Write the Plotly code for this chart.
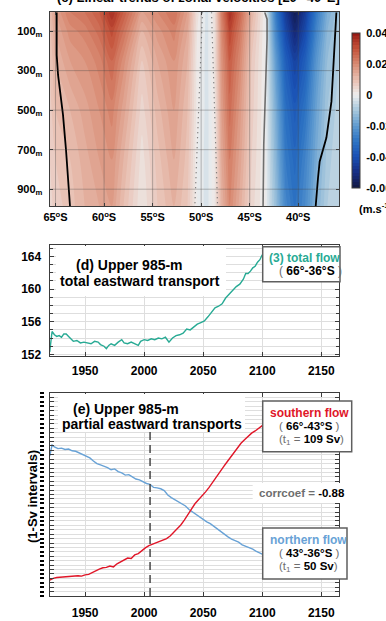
import plotly.graph_objects as go

W, H = 386, 621
def px(x): return x / W
def py(y): return 1 - y / H

FONT = "Liberation Sans, Arial, Helvetica, sans-serif"

# ---------------- panel (c): zonal-velocity trends ----------------
lat = [-65.6, -65.0, -63.5, -62.0, -60.5, -59.2, -58.0, -56.1, -54.5, -52.8, -51.4, -50.4, -49.4,
       -48.6, -47.9, -47.05, -46.0, -44.8, -43.4, -42.3, -41.3, -40.35, -39.3, -38.1, -37.0, -35.8]
depth = [5, 100, 250, 500, 750, 985]
trend_d5 = [0.010, 0.016, 0.022, 0.024, 0.028, 0.036, 0.028, 0.016, 0.020, 0.024, 0.016, 0.003, -0.003,
            0.004, 0.022, 0.036, 0.026, 0.012, 0.000, -0.028, -0.046, -0.057, -0.046, -0.028, -0.016, -0.010]
trend_d100 = [0.009, 0.014, 0.019, 0.021, 0.025, 0.031, 0.024, 0.012, 0.017, 0.021, 0.014, 0.002, -0.003,
              0.003, 0.020, 0.032, 0.023, 0.010, 0.000, -0.025, -0.042, -0.052, -0.042, -0.025, -0.014, -0.009]
trend_d250 = [0.008, 0.012, 0.016, 0.018, 0.021, 0.026, 0.019, 0.008, 0.014, 0.018, 0.012, 0.001, -0.003,
              0.003, 0.018, 0.028, 0.020, 0.008, 0.000, -0.020, -0.036, -0.044, -0.036, -0.021, -0.012, -0.008]
trend_d500 = [0.007, 0.010, 0.012, 0.015, 0.018, 0.021, 0.015, 0.005, 0.011, 0.016, 0.010, 0.001, -0.003,
              0.002, 0.016, 0.025, 0.017, 0.007, 0.000, -0.016, -0.031, -0.037, -0.030, -0.018, -0.010, -0.007]
trend_d750 = [0.006, 0.008, 0.010, 0.013, 0.016, 0.018, 0.012, 0.003, 0.009, 0.014, 0.009, 0.000, -0.003,
              0.002, 0.014, 0.022, 0.015, 0.006, 0.000, -0.014, -0.028, -0.033, -0.026, -0.016, -0.009, -0.006]
trend_d985 = [0.005, 0.007, 0.009, 0.012, 0.014, 0.016, 0.010, 0.002, 0.008, 0.012, 0.008, 0.000, -0.003,
              0.002, 0.012, 0.020, 0.013, 0.005, 0.000, -0.012, -0.025, -0.030, -0.024, -0.014, -0.008, -0.006]

# front / contour lines (lat, depth)
south_front_lat = [-64.88, -64.88, -64.74, -64.43, -64.23, -63.92, -63.66, -63.51]
south_front_dep = [5, 221, 322, 448, 524, 701, 853, 985]
north_front_lat = [-36.07, -36.14, -36.35, -36.58, -37.10, -37.79, -37.96, -38.20]
north_front_dep = [5, 70, 221, 457, 640, 760, 842, 985]
split_lat = [-43.45, -43.21, -43.21, -43.34, -43.55, -43.62]
split_dep = [5, 40, 140, 375, 675, 985]
dot1_lat = [-49.86, -50.65]
dot2_lat = [-48.93, -48.31]
dot_dep = [5, 985]

lat_ticks = [-65, -60, -55, -50, -45, -40]
lat_labels = ["65<sup>o</sup>S", "60<sup>o</sup>S", "55<sup>o</sup>S", "50<sup>o</sup>S", "45<sup>o</sup>S", "40<sup>o</sup>S"]
dep_ticks = [100, 300, 500, 700, 900]
dep_labels = ["100<sub>m</sub>", "300<sub>m</sub>", "500<sub>m</sub>", "700<sub>m</sub>", "900<sub>m</sub>"]
cb_ticks = [-0.06, -0.04, -0.02, 0, 0.02, 0.04]
cb_labels = ["-0.06", "-0.04", "-0.02", "0", "0.02", "0.04"]

# ---------------- panel (d): total transport ----------------
years_total = [1920, 1921, 1922, 1924, 1926, 1928, 1930, 1932, 1934, 1936, 1938, 1940, 1943, 1946, 1949, 1952,
               1955, 1958, 1961, 1963, 1966, 1968, 1970, 1972, 1975, 1978, 1981, 1983, 1986, 1989, 1992, 1995,
               1997, 2000, 2003, 2006, 2009, 2012, 2015, 2018, 2021, 2024, 2027, 2030, 2033, 2036, 2039, 2042,
               2045, 2048, 2051, 2054, 2057, 2060, 2063, 2066, 2069, 2072, 2075, 2078, 2081, 2084, 2086, 2088,
               2090, 2092, 2094, 2096, 2098, 2100]
total_flow = [152.3, 154.0, 154.8, 154.4, 154.2, 154.3, 154.1, 154.5, 154.5, 154.2, 153.9, 153.6, 153.7, 153.4,
              153.5, 153.4, 153.3, 153.6, 153.5, 153.2, 153.0, 152.7, 153.1, 153.3, 153.1, 153.5, 153.8, 153.4,
              153.3, 153.5, 153.3, 153.1, 153.6, 153.8, 153.7, 153.9, 153.8, 154.0, 153.9, 154.1, 153.5, 154.0,
              154.3, 154.4, 154.6, 155.1, 155.0, 155.4, 155.7, 155.9, 156.1, 156.6, 157.2, 157.7, 157.9, 158.2,
              158.9, 159.4, 159.8, 160.3, 160.6, 161.2, 161.9, 161.9, 162.2, 162.6, 162.8, 163.3, 163.6, 164.2]
total_ticks = [152, 156, 160, 164]

# ---------------- panel (e): partial transports (Sv, 1-Sv intervals) ----------------
years_south = [1920, 1923, 1926, 1930, 1934, 1938, 1941, 1944, 1947, 1950, 1953, 1956, 1959, 1962, 1965, 1968,
               1971, 1974, 1977, 1980, 1983, 1986, 1989, 1992, 1995, 1998, 2001, 2004, 2007, 2010, 2013, 2016,
               2019, 2022, 2025, 2028, 2031, 2034, 2037, 2040, 2043, 2046, 2049, 2052, 2055, 2058, 2061, 2064,
               2067, 2070, 2073, 2076, 2079, 2082, 2085, 2088, 2091, 2094, 2097, 2100]
south_flow = [3.6, 4.0, 4.2, 4.3, 4.4, 4.4, 4.5, 4.6, 4.5, 4.8, 4.9, 5.3, 5.8, 6.1, 6.4, 6.5, 6.8, 6.6, 7.3, 7.8,
              8.2, 8.6, 8.5, 9.3, 9.6, 10.3, 10.9, 11.4, 11.7, 12.0, 12.3, 12.6, 13.0, 13.6, 14.4, 15.3, 16.1,
              17.2, 18.5, 19.8, 20.9, 21.8, 22.6, 23.6, 24.6, 25.8, 27.0, 28.1, 29.2, 30.3, 31.4, 32.5, 33.6,
              34.6, 35.4, 36.2, 36.9, 37.4, 38.0, 38.6]
years_north = [1920, 1921, 1922, 1924, 1927, 1930, 1933, 1936, 1939, 1942, 1945, 1948, 1951, 1954, 1957, 1960,
               1963, 1966, 1969, 1972, 1975, 1978, 1981, 1984, 1987, 1990, 1993, 1996, 1999, 2002, 2005, 2008,
               2011, 2014, 2017, 2020, 2023, 2026, 2029, 2032, 2035, 2038, 2041, 2044, 2047, 2050, 2053, 2056,
               2059, 2062, 2065, 2068, 2071, 2074, 2077, 2080, 2083, 2086, 2089, 2092, 2095, 2098, 2100]
north_flow = [31.7, 33.5, 34.2, 33.8, 33.4, 33.5, 33.2, 33.3, 32.9, 32.8, 32.4, 32.1, 31.7, 31.3, 30.6, 30.0,
              29.7, 29.4, 29.1, 28.6, 28.8, 28.2, 27.9, 27.4, 27.5, 27.0, 26.5, 26.3, 25.9, 25.5, 25.3, 24.6,
              24.5, 24.3, 23.9, 22.9, 22.3, 21.8, 21.3, 20.8, 20.4, 19.6, 19.0, 18.4, 17.9, 17.2, 16.8, 16.4,
              15.8, 15.0, 14.5, 13.9, 13.4, 12.9, 12.5, 12.2, 11.6, 11.3, 10.9, 10.6, 10.1, 9.8, 9.5]
sv_ticks = list(range(0, 47))
marker_year = 2005
year_ticks = [1950, 2000, 2050, 2100, 2150]
corrcoef = -0.88
t1_south, t1_north = 109, 50

TEAL = "rgb(40,170,148)"
RED = "rgb(224,22,40)"
BLUE = "rgb(104,162,214)"
GRID = "rgb(222,222,222)"
AX = "rgb(60,60,60)"

colorscale = [
    [0.0, "rgb(18,24,66)"], [0.1, "rgb(22,45,130)"], [0.2, "rgb(25,80,180)"],
    [0.3, "rgb(45,115,195)"], [0.4, "rgb(95,155,208)"], [0.5, "rgb(165,198,220)"],
    [0.6, "rgb(238,238,238)"], [0.7, "rgb(232,190,176)"], [0.8, "rgb(216,138,114)"],
    [0.9, "rgb(196,82,58)"], [1.0, "rgb(150,25,20)"]]

fig = go.Figure()
fig.add_trace(go.Contour(
    x=lat, y=depth, z=[trend_d5, trend_d100, trend_d250, trend_d500, trend_d750, trend_d985],
    zmin=-0.06, zmax=0.04, colorscale=colorscale, line_width=0,
    contours=dict(start=-0.06, end=0.04, size=0.002, coloring="fill", showlines=False),
    colorbar=dict(x=px(352), xanchor="left", xpad=0, ypad=0, y=py(110.5), yanchor="middle",
                  len=155 / H, lenmode="fraction", thickness=8, outlinewidth=1, outlinecolor=AX,
                  tickvals=cb_ticks, ticktext=cb_labels, ticks="outside", ticklen=4,
                  tickcolor="rgba(0,0,0,0)",
                  tickfont=dict(family=FONT, size=11, color="black", weight="bold")),
    xaxis="x", yaxis="y", hoverinfo="skip"))
line_kw = dict(xaxis="x", yaxis="y", mode="lines", showlegend=False, hoverinfo="skip")
fig.add_trace(go.Scatter(x=south_front_lat, y=south_front_dep, line=dict(color="black", width=1.8), **line_kw))
fig.add_trace(go.Scatter(x=north_front_lat, y=north_front_dep, line=dict(color="black", width=1.8), **line_kw))
fig.add_trace(go.Scatter(x=split_lat, y=split_dep, line=dict(color="rgb(110,110,110)", width=1.6), **line_kw))
fig.add_trace(go.Scatter(x=dot1_lat, y=dot_dep, line=dict(color="rgb(100,100,100)", width=1.2, dash="1px,4px"), **line_kw))
fig.add_trace(go.Scatter(x=dot2_lat, y=dot_dep, line=dict(color="rgb(100,100,100)", width=1.2, dash="1px,4px"), **line_kw))

fig.add_trace(go.Scatter(x=years_total, y=total_flow, xaxis="x2", yaxis="y2", mode="lines",
                         line=dict(color=TEAL, width=1.4), showlegend=False))
fig.add_trace(go.Scatter(x=years_north, y=north_flow, xaxis="x3", yaxis="y3", mode="lines",
                         line=dict(color=BLUE, width=1.4), showlegend=False))
fig.add_trace(go.Scatter(x=years_south, y=south_flow, xaxis="x3", yaxis="y3", mode="lines",
                         line=dict(color=RED, width=1.4), showlegend=False))
# empty trace so the detached 1-Sv tick axis is drawn
fig.add_trace(go.Scatter(x=[], y=[], xaxis="x3", yaxis="y4", mode="lines", showlegend=False))

tickfont = dict(family=FONT, size=12, color="black", weight="bold")
common = dict(showline=True, linecolor=AX, linewidth=1.2, mirror="ticks", ticks="inside",
              tickcolor=AX, zeroline=False)
XL, XR = 49.7, 339
xl, xr = px(XL), px(XR)
fig.update_layout(
    width=W, height=H, margin=dict(l=0, r=0, t=0, b=0, autoexpand=False),
    paper_bgcolor="white", plot_bgcolor="white", showlegend=False,
    font=dict(family=FONT, color="black"),
    xaxis=dict(domain=[xl, xr], anchor="y", range=[-65.6, -35.8], tickvals=lat_ticks, ticktext=lat_labels,
               ticklen=3, showgrid=False, layer="above traces", ticklabelstandoff=1,
               tickfont=dict(family=FONT, size=11, color="black", weight="bold"), **common),
    yaxis=dict(domain=[py(206), py(12.3)], anchor="x", range=[985, 5], tickvals=dep_ticks, ticktext=dep_labels,
               ticklen=3, showgrid=False, layer="above traces", ticklabelstandoff=4,
               tickfont=dict(family=FONT, size=11, color="black", weight="bold"), **common),
    xaxis2=dict(domain=[xl, xr], anchor="y2", range=[1920, 2165], tickvals=year_ticks, ticklen=4,
                showgrid=True, gridcolor=GRID, gridwidth=1, ticklabelstandoff=3, tickfont=tickfont, **common),
    yaxis2=dict(domain=[py(356), py(245)], anchor="x2", range=[151.8, 165.4], tickvals=total_ticks,
                ticklen=4, showgrid=True, gridcolor=GRID, gridwidth=1,
                minor=dict(dtick=1, tick0=152, ticks="inside", ticklen=3, tickcolor=AX,
                           showgrid=True, gridcolor=GRID, gridwidth=1),
                ticklabelstandoff=5, tickfont=tickfont, **common),
    xaxis3=dict(domain=[xl, xr], anchor="y3", range=[1920, 2165], tickvals=year_ticks, ticklen=4,
                showgrid=True, gridcolor=GRID, gridwidth=1, ticklabelstandoff=5, tickfont=tickfont, **common),
    yaxis3=dict(domain=[py(596), py(393)], anchor="x3", range=[0, 46], tickvals=sv_ticks,
                ticklen=4, showgrid=True, gridcolor=GRID, gridwidth=1, showticklabels=False, **common),
    yaxis4=dict(overlaying="y3", anchor="free", position=px(43.5), side="left", range=[0, 46],
                tickvals=sv_ticks, ticks="outside", ticklen=4, tickwidth=2.4, tickcolor="black",
                showticklabels=False, showline=False, showgrid=False, zeroline=False),
)

shapes = []
# grid over the contour map
for v in lat_ticks:
    shapes.append(dict(type="line", xref="x", yref="paper", x0=v, x1=v, y0=py(206), y1=py(12.3),
                       line=dict(color="rgba(70,70,70,0.35)", width=1), layer="above"))
for v in dep_ticks:
    shapes.append(dict(type="line", xref="paper", yref="y", x0=xl, x1=xr, y0=v, y1=v,
                       line=dict(color="rgba(70,70,70,0.35)", width=1), layer="above"))
# dashed year marker in (e), starting below the label
shapes.append(dict(type="line", xref="x3", yref="paper", x0=marker_year, x1=marker_year, y0=py(596),
                   y1=py(432), line=dict(color="rgb(70,70,70)", width=1.5, dash="8px,5px"), layer="above"))
# white text backgrounds (cover gridlines; no data passes here)
for (x0, x1, y0, y1) in [(56, 226, 246, 296), (58, 245, 394, 432), (252.7, 346.7, 483, 503)]:
    shapes.append(dict(type="rect", xref="paper", yref="paper", x0=px(x0), x1=px(x1), y0=py(y1), y1=py(y0),
                       fillcolor="white", line_width=0, layer="above"))
# legend boxes
for (x0, x1, y0, y1) in [(262.7, 340, 246.7, 281.7), (262.7, 351.7, 401, 451.7), (262.7, 347, 528, 579)]:
    shapes.append(dict(type="rect", xref="paper", yref="paper", x0=px(x0), x1=px(x1), y0=py(y1), y1=py(y0),
                       fillcolor="white", line=dict(color="rgb(95,95,95)", width=1.5), layer="above"))
fig.update_layout(shapes=shapes)

GRAY = "rgb(110,110,110)"
def ann(text, x, y, size=12, xanchor="left", yanchor="middle", color="black", **kw):
    return dict(text=text, x=px(x), y=py(y), xref="paper", yref="paper", xanchor=xanchor, yanchor=yanchor,
                showarrow=False, font=dict(family=FONT, size=size, color=color), **kw)

def gp(s):
    return f'<span style="color:{GRAY}">{s}</span>'

annotations = [
    ann("<b>(c) Linear trends of zonal velocities [20<sup>o</sup>-40<sup>o</sup>E]</b>", 198, 7, size=13,
        xanchor="center", yanchor="bottom"),
    ann("<b>(m.s<sup>-1</sup>.century<sup>-1</sup>)</b>", 357, 208, size=11),
    ann("<b>(d) Upper 985-m</b>", 129, 265.3, size=14, xanchor="center"),
    ann("<b>total eastward transport</b>", 140, 281, size=14, xanchor="center"),
    ann("<b>(3) total flow</b>", 267, 257.5, size=12, color=TEAL),
    ann(gp("(") + " <b>66°-36°S</b> " + gp(")"), 277, 271, size=12),
    ann("<b>(e) Upper 985-m</b>", 126, 409, size=14, xanchor="center"),
    ann("<b>partial eastward transports</b>", 151.5, 424, size=14, xanchor="center"),
    ann("<b>southern flow</b>", 267.5, 413, size=12, color=RED),
    ann(gp("(") + " <b>66°-43°S</b> " + gp(")"), 277, 425.5, size=11.5),
    ann(gp("(t<sub>1</sub> =") + f" <b>{t1_south} Sv</b>" + gp(")"), 277, 440, size=11.5),
    ann("<b>northern flow</b>", 267.5, 539.5, size=12, color=BLUE),
    ann(gp("(") + " <b>43°-36°S</b> " + gp(")"), 277, 552.5, size=11.5),
    ann(gp("(t<sub>1</sub> =") + f" <b>{t1_north} Sv</b>" + gp(")"), 277, 566.5, size=11.5),
    ann(gp("<b>corrcoef =</b>") + f" <b>{corrcoef:.2f}</b>", 256.5, 493, size=11.5),
    ann("<b>(1-Sv intervals)</b>", 32, 497, size=13, xanchor="center", textangle=-90),
]
fig.update_layout(annotations=annotations)

fig.write_html("out.html")
